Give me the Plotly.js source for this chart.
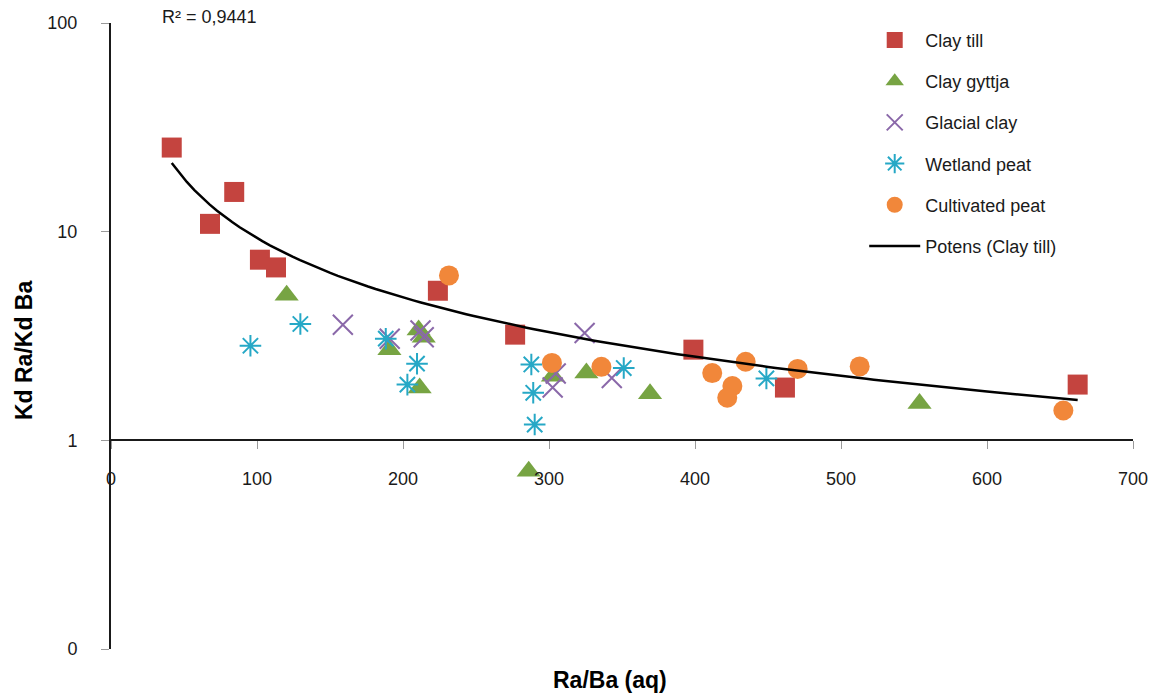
<!DOCTYPE html>
<html>
<head>
<meta charset="utf-8">
<script src="https://cdn.plot.ly/plotly-3.0.1.min.js"></script>
<style>
  html, body { margin: 0; padding: 0; background: #ffffff; }
  #chart { width: 1149px; height: 697px; }
</style>
</head>
<body>
<div id="chart"></div>
<script>
// Ra/Ba in the aqueous phase against the Kd ratio, per soil type
const clayTillX = [41.6, 67.8, 84.4, 102.0, 113.0, 223.9, 276.8, 398.9, 461.6, 662.1];
const clayTillY = [25.3, 10.9, 15.5, 7.34, 6.74, 5.21, 3.21, 2.72, 1.79, 1.85];

const clayGyttjaX = [120.3, 190.7, 210.7, 214.2, 211.4, 286.1, 302.7, 325.6, 369.2, 553.8];
const clayGyttjaY = [4.96, 2.72, 3.38, 3.12, 1.78, 0.71, 2.03, 2.10, 1.67, 1.50];

const glacialClayX = [158.8, 190.9, 212.0, 214.2, 304.6, 302.5, 324.4, 343.0];
const glacialClayY = [3.58, 3.07, 3.36, 3.12, 2.09, 1.79, 3.27, 1.99];

const wetlandPeatX = [95.5, 129.7, 188.2, 209.6, 203.0, 287.9, 289.2, 290.2, 351.2, 448.9];
const wetlandPeatY = [2.84, 3.61, 3.07, 2.33, 1.85, 2.31, 1.69, 1.19, 2.22, 1.98];

const cultivatedPeatX = [231.5, 302.0, 335.9, 411.8, 434.7, 425.6, 422.1, 470.3, 512.8, 652.3];
const cultivatedPeatY = [6.17, 2.35, 2.25, 2.10, 2.38, 1.82, 1.60, 2.20, 2.26, 1.39];

const seriesNames = ['Clay till', 'Clay gyttja', 'Glacial clay', 'Wetland peat', 'Cultivated peat'];
const trendName = 'Potens (Clay till)';
const rSquaredText = 'R² = 0,9441';

const xTickVals = [0, 100, 200, 300, 400, 500, 600, 700];
const yTickVals = [0.1, 1, 10, 100];
const yTickText = ['0', '1', '10', '100'];

const xTitle = 'Ra/Ba (aq)';
const yTitle = 'Kd Ra/Kd Ba';

// Power trendline y = a * x^b, least squares on ln(x), ln(y) of the clay till points
function powerFit(xs, ys) {
  const lx = xs.map(Math.log), ly = ys.map(Math.log);
  const n = xs.length;
  const mx = lx.reduce((s, v) => s + v, 0) / n;
  const my = ly.reduce((s, v) => s + v, 0) / n;
  let sxy = 0, sxx = 0;
  for (let i = 0; i < n; i++) {
    sxy += (lx[i] - mx) * (ly[i] - my);
    sxx += (lx[i] - mx) * (lx[i] - mx);
  }
  const b = sxy / sxx;
  const a = Math.exp(my - b * mx);
  return { a, b };
}
const fit = powerFit(clayTillX, clayTillY);
const xMin = Math.min(...clayTillX), xMax = Math.max(...clayTillX);
const trendX = [], trendY = [];
for (let i = 0; i <= 120; i++) {
  const x = xMin + (xMax - xMin) * i / 120;
  trendX.push(x);
  trendY.push(fit.a * Math.pow(x, fit.b));
}

const FONT = 'Liberation Sans, Arial, Helvetica, sans-serif';
const TEXT = '#1a1a1a';

function pts(name, x, y, marker, group) {
  return { type: 'scatter', mode: 'markers', name, x, y, marker, legendgroup: group, cliponaxis: false, hoverinfo: 'x+y+name' };
}

const traces = [
  pts(seriesNames[0], clayTillX, clayTillY, { symbol: 'square', size: 20, color: '#c4443f' }, 'g1'),
  pts(seriesNames[1], clayGyttjaX, clayGyttjaY, { symbol: 'triangle-up', size: 21, color: '#77a443' }, 'g2'),
  pts(seriesNames[2], glacialClayX, glacialClayY, { symbol: 'x-thin-open', size: 20, color: '#8a68a9', line: { width: 2, color: '#8a68a9' } }, 'g3'),
  pts(seriesNames[3], wetlandPeatX, wetlandPeatY, { symbol: 'asterisk-open', size: 18, color: '#26a8c6', line: { width: 2, color: '#26a8c6' } }, 'g4'),
  pts(seriesNames[4], cultivatedPeatX, cultivatedPeatY, { symbol: 'circle', size: 20, color: '#f1873a' }, 'g5'),
  { type: 'scatter', mode: 'lines', name: trendName, x: trendX, y: trendY,
    line: { color: '#000000', width: 2.5 }, legendgroup: 'g6', hoverinfo: 'skip' }
];

const layout = {
  width: 1149,
  height: 697,
  margin: { l: 111, r: 16, t: 23, b: 48 },
  paper_bgcolor: '#ffffff',
  plot_bgcolor: '#ffffff',
  font: { family: FONT, size: 18, color: TEXT },
  showlegend: true,
  xaxis: {
    range: [0, 700],
    anchor: 'free',
    position: 1 / 3,
    tickmode: 'array',
    tickvals: xTickVals,
    ticks: 'outside',
    ticklen: 8,
    tickwidth: 1,
    tickcolor: '#9a9a9a',
    ticklabelstandoff: 14,
    showline: true,
    linecolor: TEXT,
    linewidth: 2,
    showgrid: false,
    zeroline: false,
    tickfont: { family: FONT, size: 18, color: TEXT }
  },
  yaxis: {
    type: 'log',
    range: [-1, 2],
    tickmode: 'array',
    tickvals: yTickVals,
    ticktext: yTickText,
    ticks: 'outside',
    ticklen: 8,
    tickwidth: 1,
    tickcolor: '#9a9a9a',
    ticklabelstandoff: 20,
    showline: true,
    linecolor: TEXT,
    linewidth: 2,
    showgrid: false,
    zeroline: false,
    tickfont: { family: FONT, size: 18, color: TEXT }
  },
  legend: {
    x: 0.737,
    y: 1.002,
    xanchor: 'left',
    yanchor: 'top',
    bgcolor: 'rgba(0,0,0,0)',
    borderwidth: 0,
    itemwidth: 51,
    tracegroupgap: 14.8,
    font: { family: FONT, size: 18, color: TEXT }
  },
  annotations: [
    { text: rSquaredText, xref: 'paper', yref: 'paper', x: 0.048, y: 1.0096,
      xanchor: 'left', yanchor: 'middle', showarrow: false,
      font: { family: FONT, size: 18, color: TEXT } },
    { text: '<b>' + xTitle + '</b>', xref: 'paper', yref: 'paper', x: 0.488, y: -0.0503,
      xanchor: 'center', yanchor: 'middle', showarrow: false,
      font: { family: FONT, size: 23, color: '#000000' } },
    { text: '<b>' + yTitle + '</b>', xref: 'paper', yref: 'paper', x: -0.0851, y: 0.4776,
      xanchor: 'center', yanchor: 'middle', textangle: -90, showarrow: false,
      font: { family: FONT, size: 23, color: '#000000' } }
  ]
};

Plotly.newPlot('chart', traces, layout, { displayModeBar: false, staticPlot: true });
</script>
</body>
</html>
